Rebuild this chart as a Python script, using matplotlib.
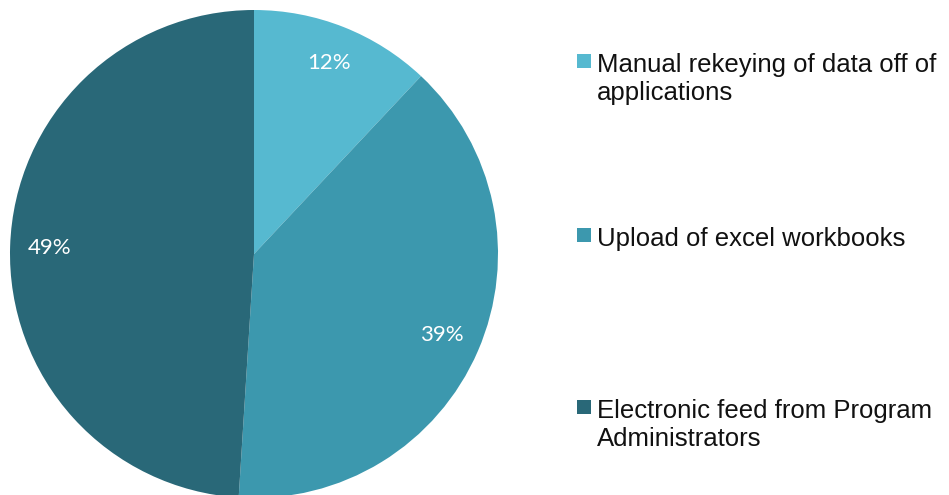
import matplotlib
matplotlib.use("Agg")
import matplotlib.pyplot as plt
from matplotlib.patches import Rectangle

labels = [["Manual rekeying of data off of", "applications"],
          ["Upload of excel workbooks"],
          ["Electronic feed from Program", "Administrators"]]
values = [12, 39, 49]
colors = ["#56B9D0", "#3C98AE", "#296878"]

W, H = 949, 495
fig = plt.figure(figsize=(W / 100, H / 100), dpi=100)

# pie: centre (254, 254) px, radius 244 px
cx, cy, r = 254, 254, 244
ax = fig.add_axes([(cx - r) / W, (H - cy - r) / H, 2 * r / W, 2 * r / H])
wedges, texts, autotexts = ax.pie(values, colors=colors, startangle=90, counterclock=False,
                                  radius=1, autopct="%d%%", pctdistance=0.84,
                                  wedgeprops=dict(linewidth=0),
                                  textprops=dict(color="white", fontsize=16,
                                                 family=["Lato", "DejaVu Sans"]))
ax.set_xlim(-1, 1)
ax.set_ylim(-1, 1)
ax.set_aspect("equal")
ax.axis("off")

# legend drawn by hand: first baseline y in px for each entry
baselines = [72, 246, 418]
for lines, col, by in zip(labels, colors, baselines):
    fig.patches.append(Rectangle((577 / W, 1 - (by - 4) / H), 14 / W, 14 / H,
                                 transform=fig.transFigure, facecolor=col,
                                 edgecolor="none"))
    for i, line in enumerate(lines):
        fig.text(597 / W, 1 - (by + 28 * i) / H, line, fontsize=18.5,
                 family="Liberation Sans", color="#111111", va="baseline", ha="left")

fig.savefig("out.png", dpi=100)
